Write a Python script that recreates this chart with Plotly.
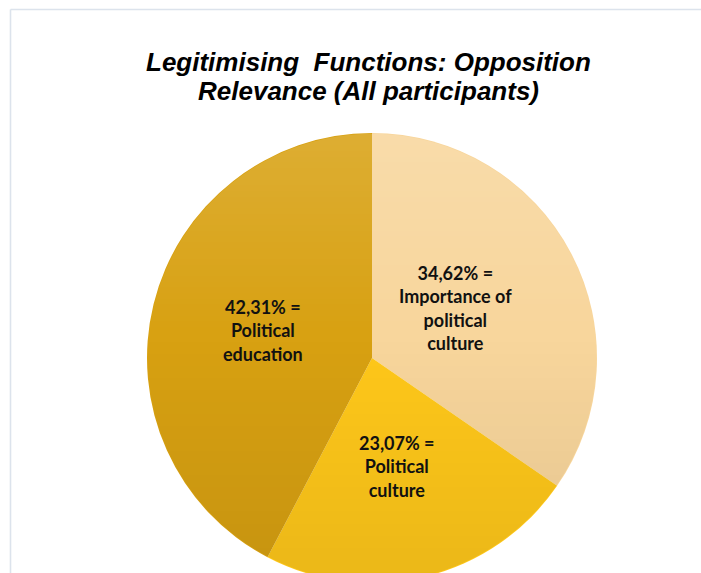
import base64
import math
import struct
import zlib

import numpy as np
import plotly.graph_objects as go

# Opposition relevance shares (%), in clockwise order from 12 o'clock
categories = ["Importance of political culture", "Political culture", "Political education"]
shares = [34.62, 23.07, 42.31]
label_lines = [["Importance of", "political", "culture"],
               ["Political", "culture"],
               ["Political", "education"]]
slice_colors = ["#F8D69C", "#FFC81A", "#D8A112"]

title_lines = ["Legitimising  Functions: Opposition", "Relevance (All participants)"]

# canvas in pixels
W, H = 701, 600
cx, cy, R = 372, 358, 225            # pie centre and radius (pixels from top-left)
label_radius = [0.43, 0.50, 0.50]    # label distance from centre, fraction of radius
label_nudge = [(-2, -5), (-2, -1), (0, -1)]  # fine pixel shifts of the label blocks


def px_x(x):
    return x / W


def px_y(y):
    return (H - y) / H


def shading_png(size):
    """Round RGBA overlay: light at the top, slightly darker toward the bottom."""
    yy, xx = np.mgrid[0:size, 0:size].astype(float) + 0.5
    r = size / 2
    dist = np.hypot(xx - r, yy - r)
    coverage = np.clip(r - 0.8 - dist + 0.5, 0, 1)
    t = yy / size
    white_a = np.clip((0.45 - t) / 0.45, 0, 1) * 0.14
    black_a = np.clip((t - 0.45) / 0.55, 0, 1) * 0.08
    rgba = np.zeros((size, size, 4), dtype=np.uint8)
    is_white = white_a > 0
    rgba[..., :3] = np.where(is_white[..., None], 255, 0)
    rgba[..., 3] = np.round((white_a + black_a) * coverage * 255).astype(np.uint8)

    raw = b"".join(b"\x00" + row.tobytes() for row in rgba)

    def chunk(tag, data):
        return (struct.pack(">I", len(data)) + tag + data
                + struct.pack(">I", zlib.crc32(tag + data) & 0xFFFFFFFF))

    png = (b"\x89PNG\r\n\x1a\n"
           + chunk(b"IHDR", struct.pack(">IIBBBBB", size, size, 8, 6, 0, 0, 0))
           + chunk(b"IDAT", zlib.compress(raw, 9))
           + chunk(b"IEND", b""))
    return "data:image/png;base64," + base64.b64encode(png).decode()


fig = go.Figure(
    go.Pie(
        values=shares,
        labels=categories,
        sort=False,
        direction="clockwise",
        rotation=0,
        marker=dict(colors=slice_colors, line=dict(width=0)),
        textinfo="none",
        hoverinfo="label+percent",
        showlegend=False,
        domain=dict(x=[px_x(cx - R), px_x(cx + R)], y=[px_y(cy + R), px_y(cy - R)]),
    )
)

# in-slice labels placed along each slice's middle angle
total = sum(shares)
start = 0.0
annotations = []
for v, lines, frac, (ndx, ndy) in zip(shares, label_lines, label_radius, label_nudge):
    mid = math.radians((start + v / 2) / total * 360)
    start += v
    x = cx + frac * R * math.sin(mid) + ndx
    y = cy - frac * R * math.cos(mid) + ndy
    text = f"{v:.2f}".replace(".", ",") + "% =<br>" + "<br>".join(lines)
    annotations.append(dict(
        x=px_x(x), y=px_y(y), xref="paper", yref="paper",
        xanchor="center", yanchor="middle", showarrow=False,
        text=f"<b>{text}</b>",
        font=dict(family="Lato, Open Sans, sans-serif", size=18, color="#111111"),
    ))

# two-line title
for line, ty in zip(title_lines, [62, 91]):
    annotations.append(dict(
        x=px_x(368), y=px_y(ty), xref="paper", yref="paper",
        xanchor="center", yanchor="middle", showarrow=False,
        text=f"<b><i>{line}</i></b>",
        font=dict(family="Liberation Sans, Arial, sans-serif", size=26, color="#000000"),
    ))

# thin frame along top and left edges
frame = "#DCE3EC"
shapes = [
    dict(type="line", xref="paper", yref="paper", x0=px_x(10.5), x1=1, y0=px_y(9.5), y1=px_y(9.5),
         line=dict(color=frame, width=1.6)),
    dict(type="line", xref="paper", yref="paper", x0=px_x(10.5), x1=px_x(10.5), y0=0, y1=px_y(9.5),
         line=dict(color=frame, width=1.6)),
]

size = 2 * R
fig.update_layout(
    width=W, height=H,
    margin=dict(l=0, r=0, t=0, b=0),
    paper_bgcolor="#FFFFFF",
    plot_bgcolor="#FFFFFF",
    annotations=annotations,
    shapes=shapes,
    images=[dict(
        source=shading_png(size), xref="paper", yref="paper",
        x=px_x(cx - R), y=px_y(cy - R), sizex=size / W, sizey=size / H,
        xanchor="left", yanchor="top", sizing="stretch", layer="above",
    )],
)

fig.write_html(
    "out.html",
    config={"displayModeBar": False},
    post_script="document.body.style.margin='0';document.body.style.overflow='hidden';"
                "document.documentElement.style.overflow='hidden';",
)
